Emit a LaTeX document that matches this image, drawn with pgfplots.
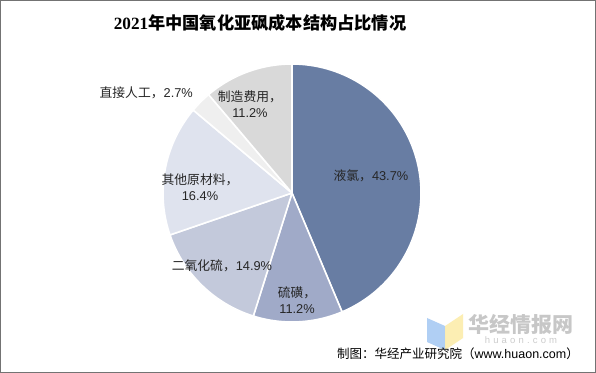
\documentclass[border=0pt]{standalone}
\usepackage{pgfplots}
\usepackage{pgfplotstable}
\pgfplotsset{compat=1.18}
\usepackage{fontspec}
\setmainfont{Liberation Sans}
\newfontfamily\cjk{Noto Sans CJK SC}
\newfontfamily\serifdig{Liberation Serif}
\definecolor{c1}{HTML}{687DA3}
\definecolor{c2}{HTML}{A0AAC8}
\definecolor{c3}{HTML}{C3C9DB}
\definecolor{c4}{HTML}{DFE3EE}
\definecolor{c5}{HTML}{EFEFEF}
\definecolor{c6}{HTML}{D9D9D9}
\definecolor{txt}{HTML}{262626}

\pgfplotstableread{
value color
43.7 c1
11.2 c2
14.9 c3
16.4 c4
2.7 c5
11.2 c6
}\piedata

\newcommand{\lab}{\fontsize{12.8bp}{16bp}\selectfont\color{txt}}

\begin{document}
\begin{tikzpicture}
\useasboundingbox (0,0) rectangle (596bp,373bp);
\fill[white] (0,0) rectangle (596bp,373bp);
\begin{axis}[
  hide axis,
  x=129bp, y=129bp,
  xmin=-1.05, xmax=1.05, ymin=-1.05, ymax=1.05,
  anchor=origin, at={(292bp,180bp)},
  clip=false,
]
\def\cum{0}
\def\total{100.1}
\pgfplotsforeachungrouped \i in {0,...,5}{%
  \pgfplotstablegetelem{\i}{value}\of\piedata \let\sv\pgfplotsretval
  \pgfplotstablegetelem{\i}{color}\of\piedata \let\sc\pgfplotsretval
  \pgfmathsetmacro\a{90-(\cum/\total)*360}%
  \pgfmathsetmacro\cum{\cum+\sv}%
  \pgfmathsetmacro\b{90-(\cum/\total)*360}%
  \edef\temp{\noexpand\addplot[fill=\sc, draw=white, line width=1.6pt, line join=round, domain=\b:\a, samples=80] ({cos(x)},{sin(x)}) -- (axis cs:0,0) -- cycle;}%
  \temp
}
\node[align=center,font=\lab] at (axis cs:0.612,0.132) {{\cjk 液氯，}43.7\%};
\node[align=center,font=\lab] at (axis cs:0.039,-0.829) {{\cjk 硫磺，}\\11.2\%};
\node[align=center,font=\lab] at (axis cs:-0.543,-0.566) {{\cjk 二氧化硫，}14.9\%};
\node[align=center,font=\lab] at (axis cs:-0.713,0.047) {{\cjk 其他原材料，}\\16.4\%};
\node[align=center,font=\lab] at (axis cs:-1.13,0.775) {{\cjk 直接人工，}2.7\%};
\node[align=center,font=\lab] at (axis cs:-0.326,0.690) {{\cjk 制造费用，}\\11.2\%};
\end{axis}
% title
\node[font=\fontsize{17.2bp}{18bp}\selectfont\bfseries, text=black] at (260bp,350bp) {{\serifdig\bfseries 2021}{\cjk\bfseries 年中国氧化亚砜成本结构占比情况}};
% watermark logo
\fill[fill={rgb,255:red,157;green,195;blue,242}, opacity=0.8] (427bp,55bp) -- (445bp,47bp) -- (445bp,23bp) -- (427bp,31bp) -- cycle;
\fill[fill={rgb,255:red,252;green,234;blue,160}, opacity=0.8] (445bp,47bp) -- (463bp,59bp) -- (463bp,35bp) -- (445bp,23bp) -- cycle;
\node[font=\fontsize{21bp}{22bp}\selectfont\cjk\bfseries, text=black!22] at (521bp,49bp) {华经情报网};
\node[font=\fontsize{9.5bp}{10bp}\selectfont, text=black!20] at (521bp,33bp) {h\,\,u\,\,a\,\,o\,\,n\,\,.\,\,c\,\,o\,\,m};
% footer
\node[anchor=east, font=\fontsize{12.5bp}{14bp}\selectfont, text=black, inner sep=0pt] at (579bp,19bp) {{\cjk 制图：华经产业研究院（}www.huaon.com{\cjk ）}};
% frame
\draw[black!55, line width=1bp] (0.5bp,0.5bp) rectangle (595.5bp,372.5bp);
\end{tikzpicture}
\end{document}
